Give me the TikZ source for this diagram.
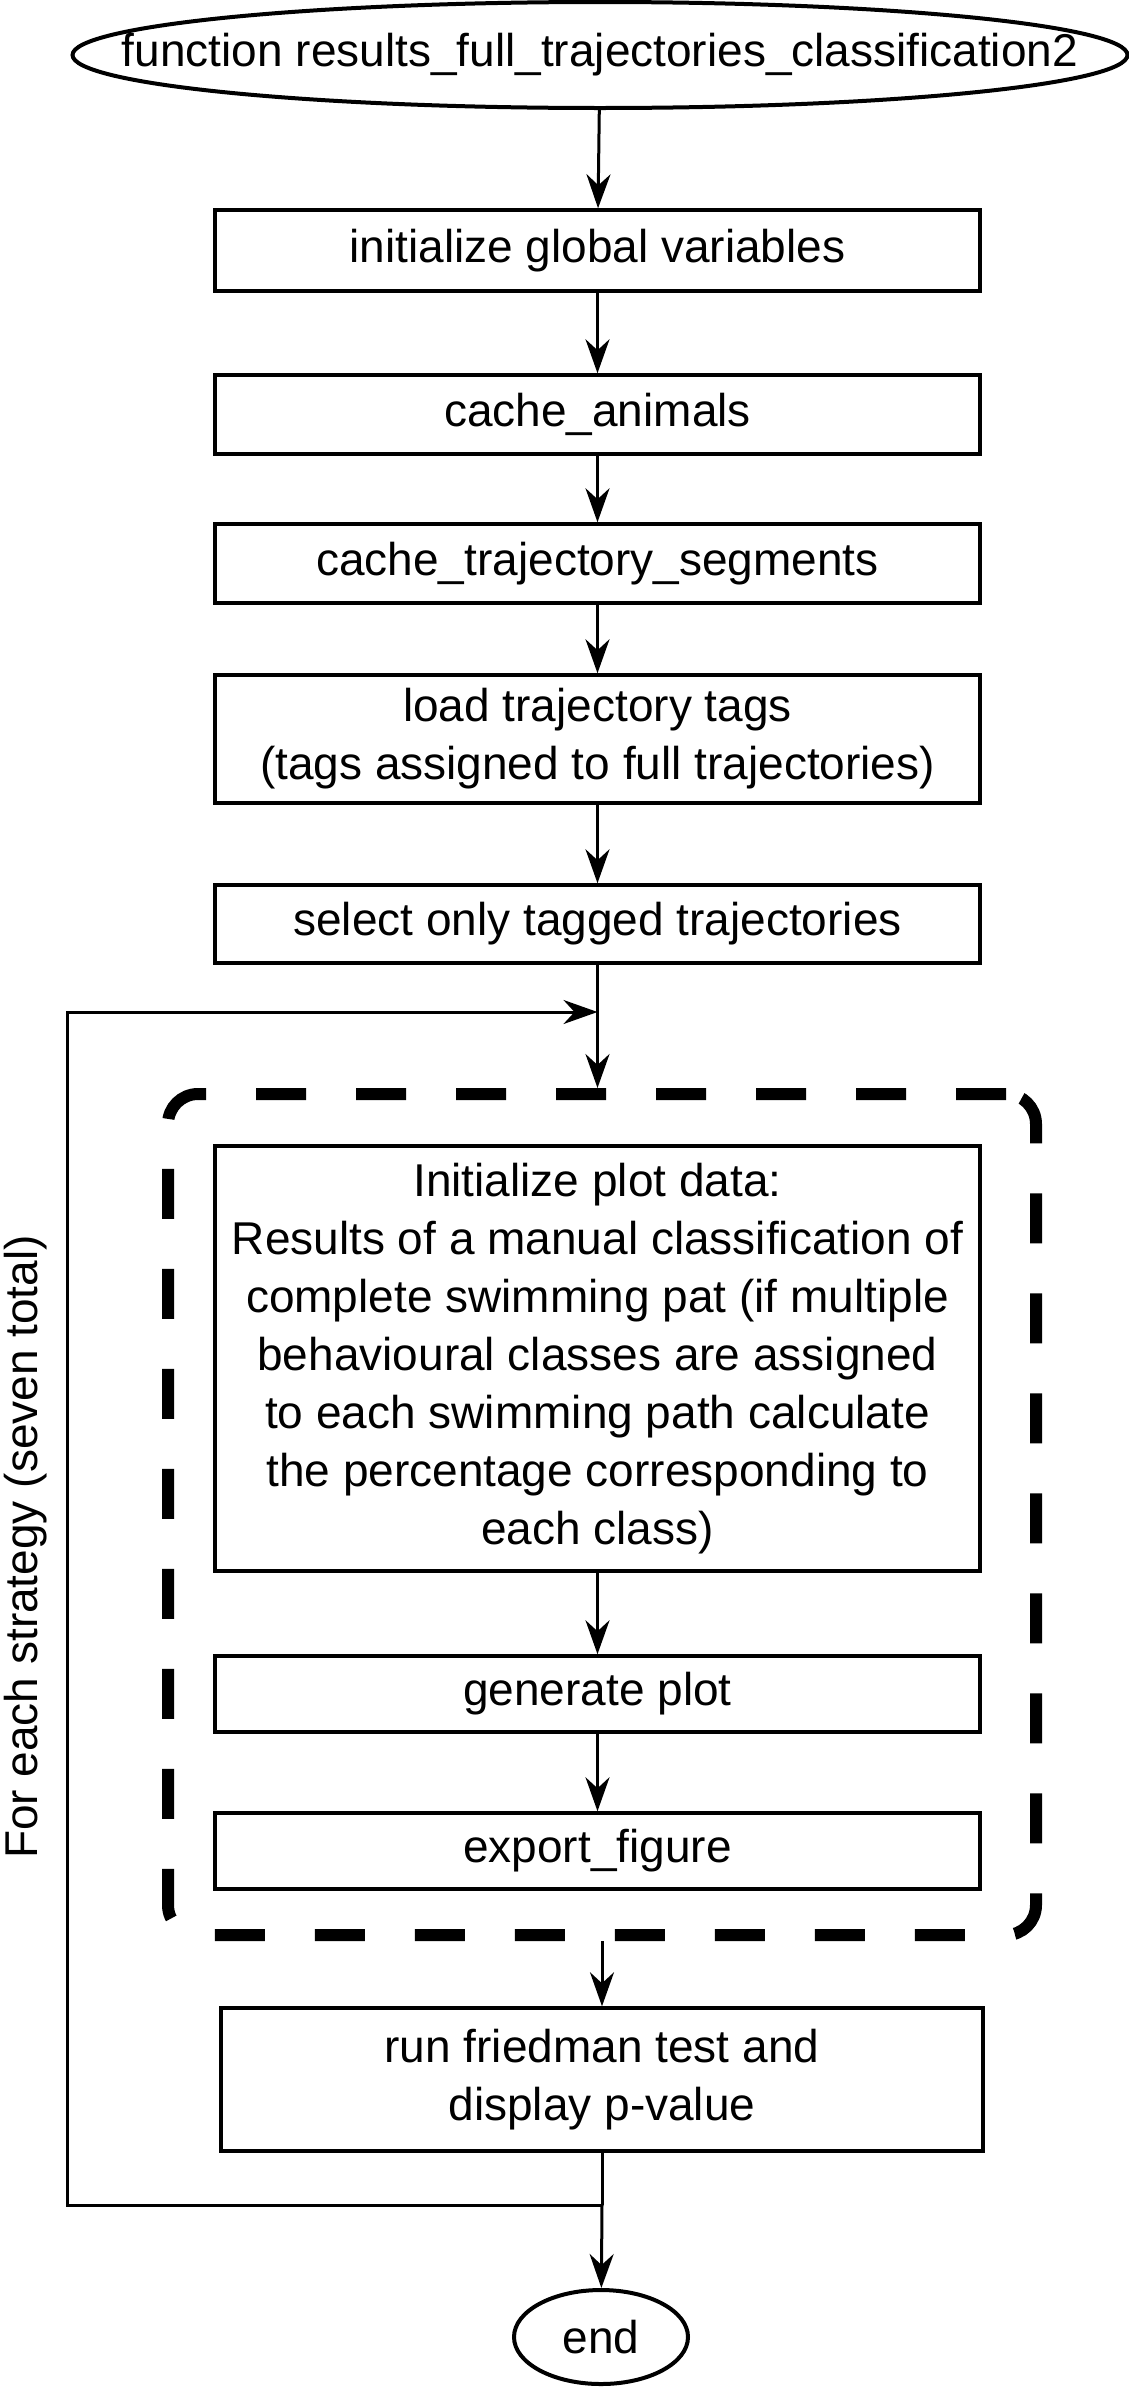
\documentclass[tikz,border=0pt]{standalone}
\usepackage{fontspec}
\setmainfont{Liberation Sans}
\usetikzlibrary{shapes.geometric,arrows.meta,positioning}

\begin{document}
\begin{tikzpicture}[x=1pt,y=-1pt,
  blk/.style={rectangle, draw=black, line width=3.5pt, minimum width=765pt,
              inner sep=0pt, align=center, font=\fontsize{46}{58}\selectfont},
  term/.style={ellipse, draw=black, line width=4pt, inner sep=0pt,
               font=\fontsize{46}{58}\selectfont},
  flow/.style={-{Stealth[length=34pt,width=24pt,inset=11pt]}, line width=3pt},
  grp/.style={draw=black, line width=12pt, dash pattern=on 50pt off 50pt,
              rounded corners=30pt, minimum width=868pt, minimum height=841pt}
]
  \useasboundingbox (0,0) rectangle (1129,2388);

  \node[term, inner xsep=-200pt, minimum width=1055pt, minimum height=106pt] (start) at (600,55) {function results\_full\_trajectories\_classification2};
  \node[blk, minimum height=81pt]  (init)   at (597.5,250.5) {initialize global variables};
  \node[blk, minimum height=79pt]  (cacheA) at (597.5,414.5) {cache\_animals};
  \node[blk, minimum height=79pt]  (cacheT) at (597.5,563.5) {cache\_trajectory\_segments};
  \node[blk, minimum height=128pt] (load)   at (597.5,739)   {load trajectory tags\\(tags assigned to full trajectories)};
  \node[blk, minimum height=78pt]  (select) at (597.5,924)   {select only tagged trajectories};

  % loop body
  \node[grp] (loop) at (602,1514.5) {};
  \node[blk, minimum height=425pt] (plotdata) at (597.5,1358.5) {Initialize plot data:\\Results of a manual classification of\\complete swimming pat (if multiple\\behavioural classes are assigned\\to each swimming path calculate\\the percentage corresponding to\\each class)};
  \node[blk, minimum height=76pt]  (genplot) at (597.5,1694) {generate plot};
  \node[blk, minimum height=76pt]  (export)  at (597.5,1851) {export\_figure};

  \node[blk, minimum width=762pt, minimum height=143pt] (friedman) at (602,2079.5) {run friedman test and\\display p-value};
  \node[term, minimum width=174pt, minimum height=94pt] (stop) at (601,2337) {end};

  \node[rotate=90, font=\fontsize{46}{58}\selectfont] (lbl) at (26,1547) {For each strategy (seven total)};

  \coordinate (loopin)  at (602,1012);
  \coordinate (loopout) at (602,2205);
  \coordinate (corner)  at (67,2205);

  \draw[flow] (start) -- (init);
  \draw[flow] (init) -- (cacheA);
  \draw[flow] (cacheA) -- (cacheT);
  \draw[flow] (cacheT) -- (load);
  \draw[flow] (load) -- (select);
  \draw[flow] (select.south) -- (select.south |- loop.north);
  \draw[flow] (plotdata) -- (genplot);
  \draw[flow] (genplot) -- (export);
  \draw[flow] (loop.south) -- (loop.south -| friedman.north) -- (friedman.north);
  \draw[line width=3pt] (friedman.south) -- (loopout);
  \draw[flow] (loopout) -- (stop);
  \draw[flow] (loopout) -- (corner) |- (select.south |- loopin);
\end{tikzpicture}
\end{document}
